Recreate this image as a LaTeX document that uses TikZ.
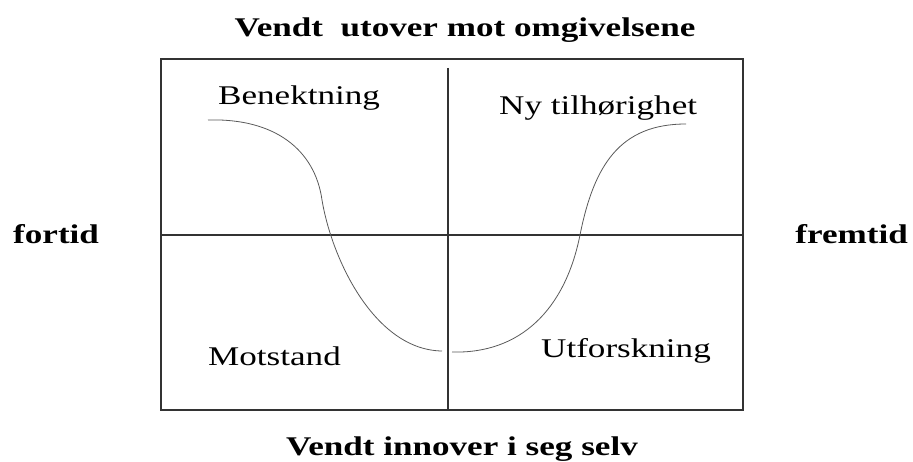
\documentclass[tikz,border=0pt]{standalone}
\usepackage{fontspec}
\setmainfont{Liberation Serif}
\usetikzlibrary{positioning}

% wide text, the picture is stretched sideways
\newcommand{\wide}[1]{\scalebox{1.3}[1]{#1}}

\begin{document}
\begin{tikzpicture}[x=1pt,y=-1pt,
  akse/.style={line width=1.4pt,draw=black!80},
  kurve/.style={line width=0.8pt,draw=black!65},
  tittel/.style={font=\fontsize{27}{31}\selectfont\bfseries,inner sep=0pt,anchor=base},
  fase/.style={font=\fontsize{27}{31}\selectfont,inner sep=0pt,anchor=base west}]
\useasboundingbox (0,0) rectangle (913,462);
% box and axes
\draw[akse] (161,59) rectangle (743,410);
\coordinate (venstre) at (161,235);
\coordinate (hoyre) at (743,235);
\coordinate (topp) at (448,68);
\coordinate (bunn) at (448,410);
\draw[akse] (venstre) -- (hoyre);
\draw[akse] (topp) -- (bunn);
% the curve
\draw[kurve] (208,120) .. controls (275,118) and (315,150) .. (322,200)
  .. controls (332,260) and (375,350) .. (442,351);
\draw[kurve] (452,352) .. controls (520,354) and (565,310) .. (580,235)
  .. controls (594,165) and (620,124) .. (686,124);
% labels
\node[tittel] (utover) at (465,37) {\wide{Vendt\ \ utover mot omgivelsene}};
\node[tittel] (innover) at (462,455) {\wide{Vendt innover i seg selv}};
\node[tittel,anchor=base west] (fortid) at (13,244) {\wide{fortid}};
\node[tittel,anchor=base east] (fremtid) at (908,244) {\wide{fremtid}};
\node[fase] (benektning) at (218,105) {\wide{Benektning}};
\node[fase] (ny) at (499,115) {\wide{Ny tilhørighet}};
\node[fase] (motstand) at (208,365) {\wide{Motstand}};
\node[fase] (utforskning) at (541,357) {\wide{Utforskning}};
\end{tikzpicture}
\end{document}
